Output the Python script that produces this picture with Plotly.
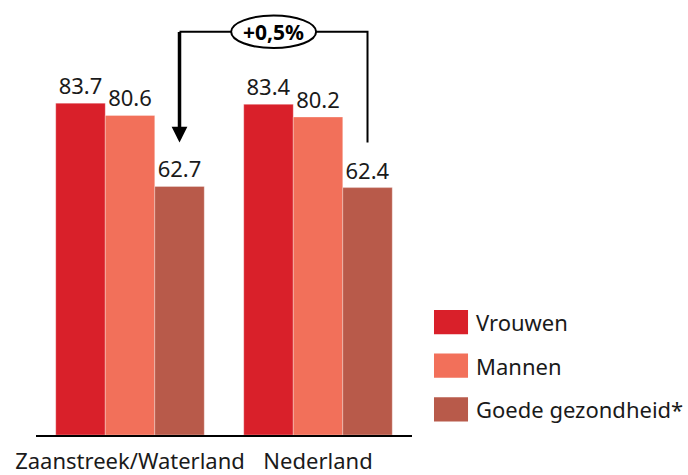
import plotly.graph_objects as go

# data
regions = ["Zaanstreek/Waterland", "Nederland"]
series_names = ["Vrouwen", "Mannen", "Goede gezondheid*"]
vrouwen = [83.7, 83.4]
mannen = [80.6, 80.2]
goede = [62.7, 62.4]
verschil_label = "+0,5%"

colors = ["#D9202A", "#F2705A", "#B85A4A"]
FONT = "Noto Sans"
FS = 22

fig = go.Figure()
for name, vals, col in zip(series_names, [vrouwen, mannen, goede], colors):
    fig.add_trace(
        go.Bar(
            x=regions,
            y=vals,
            name=name,
            marker=dict(color=col, line=dict(color="rgba(255,255,255,0.6)", width=0.5)),
            text=[f"{v:.1f}" for v in vals],
            textposition="outside",
            textfont=dict(size=FS, color="#1a1a1a", family=FONT),
            cliponaxis=False,
            showlegend=False,
        )
    )

# bracket between "goede gezondheid" bars
bar_w = 0.79 / 3
x_left = 0 + bar_w
x_right = 1 + bar_w
y_top = 101.7
y_end = 73.8

fig.add_shape(
    type="path",
    path=f"M {x_left},{y_top} L {x_right},{y_top} L {x_right},{y_end}",
    xref="x",
    yref="y",
    line=dict(color="black", width=2),
)
fig.add_annotation(
    x=x_left,
    y=y_end,
    ax=x_left,
    ay=y_top + 0.3,
    xref="x",
    yref="y",
    axref="x",
    ayref="y",
    text="",
    showarrow=True,
    arrowhead=2,
    arrowsize=0.9,
    arrowwidth=3.5,
    arrowcolor="black",
)
fig.add_shape(
    type="circle",
    x0=0.538,
    x1=0.99,
    y0=y_top - 4.1,
    y1=y_top + 4.1,
    xref="x",
    yref="y",
    fillcolor="white",
    line=dict(color="black", width=2),
)
fig.add_annotation(
    x=0.763,
    y=y_top,
    xref="x",
    yref="y",
    text=f"<b>{verschil_label}</b>",
    showarrow=False,
    font=dict(size=21, color="black", family=FONT),
)

# legend with big swatches
legend_top = [0.294, 0.192, 0.089]
for name, col, top in zip(series_names, colors, legend_top):
    fig.add_shape(
        type="rect",
        xref="paper",
        yref="paper",
        x0=1.0585,
        x1=1.149,
        y0=top - 0.057,
        y1=top,
        fillcolor=col,
        line=dict(width=0),
    )
    fig.add_annotation(
        xref="paper",
        yref="paper",
        x=1.165,
        y=top - 0.0285,
        text=name,
        showarrow=False,
        xanchor="left",
        yanchor="middle",
        font=dict(size=FS, color="#1a1a1a", family=FONT),
    )

fig.update_layout(
    width=688,
    height=475,
    margin=dict(l=36, r=276, t=10, b=40),
    barmode="group",
    bargap=0.21,
    bargroupgap=0,
    plot_bgcolor="white",
    paper_bgcolor="white",
    font=dict(family=FONT, size=FS, color="#1a1a1a"),
)
fig.update_xaxes(
    showline=True,
    linecolor="black",
    linewidth=2,
    ticks="",
    ticklabelstandoff=6,
    tickfont=dict(size=FS, color="#1a1a1a"),
    showgrid=False,
    automargin=False,
)
fig.update_yaxes(
    range=[0, 107.2],
    visible=False,
    showgrid=False,
    automargin=False,
)

fig.write_html(
    "out.html",
    config={"displayModeBar": False},
    post_script="document.body.style.margin='0';",
)
